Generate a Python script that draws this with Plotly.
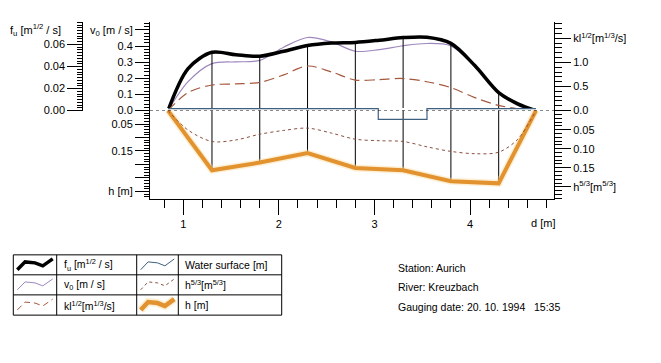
import plotly.graph_objects as go

W, H = 661, 363

# ---------------- data ----------------
CURVE_D = [0.84, 1.05, 1.3, 1.55, 1.8, 2.05, 2.3, 2.55, 2.8, 3.05, 3.3, 3.55, 3.8, 4.05, 4.3, 4.5, 4.69]
FU = [0, 0.0381, 0.0529, 0.0507, 0.0493, 0.0538, 0.0590, 0.0613, 0.0619, 0.0639, 0.0663, 0.0666, 0.0610,
      0.0409, 0.0163, 0.0061, 0]
V0 = [0, 0.179, 0.291, 0.302, 0.311, 0.393, 0.453, 0.426, 0.368, 0.378, 0.402, 0.416, 0.401, 0.276, 0.112,
      0.032, 0]
KL = [0, 0.373, 0.531, 0.553, 0.584, 0.741, 0.924, 0.802, 0.633, 0.643, 0.665, 0.598, 0.476, 0.27, 0.108,
      0.037, 0]
H53 = [0, 0.051, 0.081, 0.077, 0.062, 0.052, 0.046, 0.059, 0.075, 0.079, 0.081, 0.095, 0.107, 0.113, 0.109,
       0.075, 0]

PROFILE_D = [0.84, 1.3, 1.8, 2.3, 2.8, 3.3, 3.8, 4.3, 4.69]
DEPTH_H = [0, 0.2215, 0.193, 0.158, 0.213, 0.2215, 0.262, 0.270, 0]
VERTICALS = [1.3, 1.8, 2.3, 2.8, 3.3, 3.8, 4.3]

WS_D = [0.84, 3.04, 3.04, 3.55, 3.55, 4.69]
WS_DEPTH = [-0.007, -0.007, 0.033, 0.033, -0.007, -0.007]

X_TICKS = [1, 2, 3, 4]
X_LABELS = ["1", "2", "3", "4"]
V0_TICKS = [0, 0.1, 0.2, 0.3, 0.4, 0.5]
V0_LABELS = ["0.0", "0.1", "0.2", "0.3", "0.4", "v<sub>0</sub> [m / s]"]
FU_TICKS = [0, 0.02, 0.04, 0.06]
FU_LABELS = ["0.00", "0.02", "0.04", "0.06"]
KL_TICKS = [0, 0.5, 1.0, 1.5]
KL_LABELS = ["0.0", "0.5", "1.0", "kl<sup>1/2</sup>[m<sup>1/3</sup>/s]"]
H_TICKS = [0.05, 0.10, 0.15, 0.20, 0.25, 0.30]
H_LABELS = ["0.05", "", "0.15", "", "", "h [m]"]
H53_TICKS = [0.05, 0.10, 0.15, 0.20]
H53_LABELS = ["0.05", "0.10", "0.15", "h<sup>5/3</sup>[m<sup>5/3</sup>]"]

INFO_LINES = ["Station: Aurich", "River: Kreuzbach", "Gauging date: 20. 10. 1994   15:35"]

# ---------------- styles ----------------
FONT = 'Arial, "Liberation Sans", sans-serif'
C_FU = "black"
C_V0 = "#9d88bd"
C_KL = "#a5583e"
C_H53 = "#8a5040"
C_WS = "#3d6080"
C_H = "#e2922f"
C_GLOW = "rgba(250,220,160,0.45)"

# page offset compensation (body margin as seen in the screenshot)
OFF_X, OFF_Y = 8, 5


def px(x):
    return (x - OFF_X) / W


def py(y):
    return 1 - (y - OFF_Y) / H


# geometry (pixels of the reference)
X_PX0, X_SCALE = 87.73, 95.57          # pixel of d=0 and px per metre
LEFT, RIGHT = 150, 554
ZERO_Y, TOP_Y, BOT_Y, LOW_TOP = 109.3, 19, 199, 106.7
S_V0, S_FU, S_KL, S_H, S_H53 = 164, 1120, 49, 274, 388

fig = go.Figure()

# verticals
vx_u, vy_u, vx_l, vy_l = [], [], [], []
for d in VERTICALS:
    vx_u += [d, d, None]
    vy_u += [0, FU[CURVE_D.index(d)], None]
    vx_l += [d, d, None]
    vy_l += [0, DEPTH_H[PROFILE_D.index(d)], None]
fig.add_trace(go.Scatter(x=vx_u, y=vy_u, xaxis="x", yaxis="y2", mode="lines",
                         line=dict(color="black", width=1), hoverinfo="skip"))
fig.add_trace(go.Scatter(x=vx_l, y=vy_l, xaxis="x", yaxis="y4", mode="lines",
                         line=dict(color="black", width=1), hoverinfo="skip"))

# lower panel
fig.add_trace(go.Scatter(x=WS_D, y=WS_DEPTH, xaxis="x", yaxis="y4", mode="lines",
                         line=dict(color=C_WS, width=1.2), name="Water surface [m]"))
fig.add_trace(go.Scatter(x=CURVE_D, y=H53, xaxis="x", yaxis="y5", mode="lines",
                         line=dict(color=C_H53, width=1, dash="3px,3px", shape="spline", smoothing=0.9),
                         name="h^5/3"))
fig.add_trace(go.Scatter(x=PROFILE_D, y=DEPTH_H, xaxis="x", yaxis="y4", mode="lines",
                         line=dict(color=C_GLOW, width=7), hoverinfo="skip"))
fig.add_trace(go.Scatter(x=PROFILE_D, y=DEPTH_H, xaxis="x", yaxis="y4", mode="lines",
                         line=dict(color=C_H, width=4), name="h [m]"))

# upper panel
fig.add_trace(go.Scatter(x=CURVE_D, y=KL, xaxis="x", yaxis="y3", mode="lines",
                         line=dict(color=C_KL, width=1.2, dash="10px,5px", shape="spline", smoothing=0.9),
                         name="kl^1/2"))
fig.add_trace(go.Scatter(x=CURVE_D, y=V0, xaxis="x", yaxis="y", mode="lines",
                         line=dict(color=C_V0, width=1.2, shape="spline", smoothing=0.9), name="v0"))
fig.add_trace(go.Scatter(x=CURVE_D, y=FU, xaxis="x", yaxis="y2", mode="lines",
                         line=dict(color=C_FU, width=3.5, shape="spline", smoothing=0.9), name="fu"))

tickfont = dict(family=FONT, size=11, color="black")
common = dict(showgrid=False, zeroline=False, showline=True, linecolor="black", linewidth=1,
              ticks="outside", tickcolor="black", tickwidth=1, tickfont=tickfont, fixedrange=True,
              tickmode="array")


def minor(dt, ln):
    return dict(tickmode="linear", tick0=0, dtick=dt, ticklen=ln, ticks="outside",
                tickcolor="black", tickwidth=1)


up_dom = [py(ZERO_Y), py(TOP_Y)]
low_dom = [py(BOT_Y), py(LOW_TOP)]

fig.update_layout(
    width=W, height=H, autosize=False,
    margin=dict(l=0, r=0, t=0, b=0),
    paper_bgcolor="white", plot_bgcolor="white",
    showlegend=False,
    xaxis=dict(domain=[px(LEFT), px(RIGHT)],
               range=[(LEFT - X_PX0) / X_SCALE, (RIGHT - X_PX0) / X_SCALE],
               anchor="y4", tickvals=X_TICKS, ticktext=X_LABELS, ticklen=15,
               minor=minor(0.2, 8), **common),
    yaxis=dict(domain=up_dom, anchor="x", side="left",
               range=[0, (ZERO_Y - TOP_Y) / S_V0],
               tickvals=V0_TICKS, ticktext=V0_LABELS, ticklen=14, minor=minor(0.02, 5), **common),
    yaxis2=dict(overlaying="y", anchor="free", position=px(82.3), side="left",
                range=[0, (ZERO_Y - TOP_Y) / S_FU],
                tickvals=FU_TICKS, ticktext=FU_LABELS, ticklen=15, minor=minor(0.0025, 5), **common),
    yaxis3=dict(overlaying="y", anchor="x", side="right",
                range=[0, (ZERO_Y - TOP_Y) / S_KL],
                tickvals=KL_TICKS, ticktext=KL_LABELS, ticklen=16, minor=minor(0.1, 7), **common),
    yaxis4=dict(domain=low_dom, anchor="x", side="left",
                range=[(BOT_Y - ZERO_Y) / S_H, -(ZERO_Y - LOW_TOP) / S_H],
                tickvals=H_TICKS, ticktext=H_LABELS, ticklen=14, minor=minor(0.01, 5), **common),
    yaxis5=dict(overlaying="y4", anchor="x", side="right",
                range=[(BOT_Y - ZERO_Y) / S_H53, -(ZERO_Y - LOW_TOP) / S_H53],
                tickvals=H53_TICKS, ticktext=H53_LABELS, ticklen=16, minor=minor(0.01, 7), **common),
)

shapes = []
# zero line
shapes.append(dict(type="line", xref="x domain", yref="y", x0=0, x1=1, y0=0, y1=0,
                   line=dict(color="black", width=1, dash="3px,3px"), layer="above"))

annotations = []
annotations.append(dict(x=px(62.5), y=py(27), xref="paper", yref="paper", xanchor="right", yanchor="middle",
                        text="f<sub>u</sub> [m<sup>1/2</sup> / s]", showarrow=False,
                        font=dict(family=FONT, size=11, color="black")))
annotations.append(dict(x=px(543), y=py(224), xref="paper", yref="paper", xanchor="center", yanchor="middle",
                        text="d [m]", showarrow=False, font=dict(family=FONT, size=11, color="black")))

# legend table
COLS = [13.3, 56.7, 136.7, 178.3, 281.7]
ROWS = [256, 276.3, 296.7, 317.3]
for cx in COLS:
    shapes.append(dict(type="line", xref="paper", yref="paper", x0=px(cx), x1=px(cx),
                       y0=py(ROWS[0]), y1=py(ROWS[-1]), line=dict(color="black", width=1)))
for ry in ROWS:
    shapes.append(dict(type="line", xref="paper", yref="paper", x0=px(COLS[0]), x1=px(COLS[-1]),
                       y0=py(ry), y1=py(ry), line=dict(color="black", width=1)))

GLYPH_X = [0, 0.22, 0.5, 0.72, 1.0]
GLYPH_DY = [-5, 3, 2, -1, 6]

LEGEND = [
    # (row, col, label, color, width, dash, glow)
    (0, 0, "f<sub>u</sub> [m<sup>1/2</sup> / s]", C_FU, 3.5, "solid", False),
    (0, 2, "Water surface [m]", C_WS, 1, "solid", False),
    (1, 0, "v<sub>0</sub> [m / s]", C_V0, 1, "solid", False),
    (1, 2, "h<sup>5/3</sup>[m<sup>5/3</sup>]", C_H53, 1, "3px,3px", False),
    (2, 0, "kl<sup>1/2</sup>[m<sup>1/3</sup>/s]", C_KL, 1, "6px,4px", False),
    (2, 2, "h [m]", C_H, 4.5, "solid", True),
]
for r, c, label, color, width, dash, glow in LEGEND:
    x0, x1 = COLS[c] + 4, COLS[c + 1] - 4
    yc = (ROWS[r] + ROWS[r + 1]) / 2
    pts = [(px(x0 + gx * (x1 - x0)), py(yc - gy)) for gx, gy in zip(GLYPH_X, GLYPH_DY)]
    path = "M " + " L ".join(f"{a:.5f},{b:.5f}" for a, b in pts)
    if glow:
        shapes.append(dict(type="path", xref="paper", yref="paper", path=path,
                           line=dict(color=C_GLOW, width=8)))
    shapes.append(dict(type="path", xref="paper", yref="paper", path=path,
                       line=dict(color=color, width=width, dash=dash)))
    annotations.append(dict(x=px(COLS[c + 1] + 5), y=py(yc), xref="paper", yref="paper",
                            xanchor="left", yanchor="middle", text=label, showarrow=False,
                            font=dict(family=FONT, size=10.5, color="black")))

for i, line in enumerate(INFO_LINES):
    annotations.append(dict(x=px(396), y=py(269 + 20 * i), xref="paper", yref="paper",
                            xanchor="left", yanchor="middle", text=line, showarrow=False,
                            font=dict(family=FONT, size=10.5, color="black")))

fig.update_layout(shapes=shapes, annotations=annotations)
fig.write_html("out.html")
